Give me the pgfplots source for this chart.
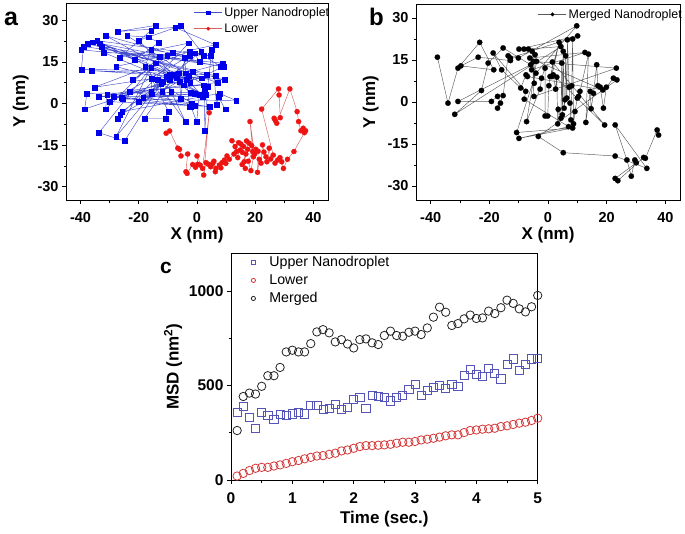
\documentclass[border=0pt]{standalone}
\usepackage{fontspec}
\setmainfont{Liberation Sans}
\usepackage{pgfplots}
\pgfplotsset{compat=1.18}
\definecolor{ublue}{RGB}{0,0,235}
\definecolor{ubline}{RGB}{70,80,205}
\definecolor{lred}{RGB}{238,20,20}
\definecolor{lrline}{RGB}{215,95,95}
\definecolor{mline}{RGB}{90,90,90}
\definecolor{cblue}{RGB}{85,85,185}
\definecolor{cred}{RGB}{212,55,55}
\definecolor{cblack}{RGB}{35,35,35}

\pgfplotsset{
  common/.style={
    scale only axis,
    tick align=outside, xtick pos=bottom, ytick pos=left,
    major tick length=4pt, minor tick length=2.5pt,
    axis line style={line width=0.9pt},
    every tick/.style={black, line width=0.8pt},
    /pgf/number format/assume math mode=true,
    /pgf/number format/1000 sep={},
    label style={font=\fontsize{17}{19}\selectfont\bfseries},
    xticklabel style={yshift=-5pt},
    legend cell align=left,
  },
  traj/.style={
    common,
    xmin=-45, xmax=45,
    xtick={-40,-20,0,20,40}, minor xtick={-30,-10,10,30},
    ytick={-30,-15,0,15,30}, minor ytick={-22.5,-7.5,7.5,22.5},
    tick label style={font=\fontsize{14.5}{16}\selectfont\bfseries},
    xlabel={X (nm)}, ylabel={Y (nm)},
    xlabel style={yshift=2pt}, ylabel style={yshift=2pt},
    legend style={draw=none, fill=none, at={(1.013,0.99)}, anchor=north east,
      inner xsep=0pt, inner ysep=0pt, font=\fontsize{12.4}{14}\selectfont, row sep=2pt},
    legend image code/.code={\draw[mark repeat=2,mark phase=2,#1, mark size=1.8pt] plot coordinates {(0pt,0pt) (14pt,0pt) (28pt,0pt)};},
  },
}

\begin{document}
\begin{tikzpicture}
\useasboundingbox (0,0) rectangle (685pt,-533pt);

% ---------------- panel a ----------------
\begin{axis}[traj, at={(66pt,-200pt)}, anchor=south west,
  width=262pt, height=197pt, ymin=-34.8, ymax=36.3]
\addplot[ubline, line width=0.45pt, mark=square*, mark size=2.4pt,
  mark options={ublue, draw=ublue, fill=ublue, line width=0.2pt}] coordinates {
(-39.8,19.4) (8.8,14.6) (-1.5,11.6) (-39.7,12.4) (-39,20.6) (9,13.4) (3.3,10.4)
(-36.3,11.9) (9.4,8.6) (-37.5,21.6) (6.5,10) (-6.9,9.2) (-38.6,-2) (-37.8,3.7)
(-2.3,4) (-9.5,10.4) (-35.8,22.2) (8.2,13.4) (2.2,17.2) (-32,18.4) (2.9,3.1)
(-34.3,22.7) (4.6,17.2) (-2.6,18.8) (-35.2,5.9) (-10.6,9.8) (-7.8,10.4)
(-33.5,21.8) (7,7.6) (-33.7,2.5) (2,2.5) (-2.4,7.6) (-32.7,20.6) (-12.9,17)
(-31.4,-2) (-30.9,3.1) (1.7,9.2) (-3.5,8.6) (-31.4,24.5) (0.8,15.2) (-0.9,18.2)
(-30,0.7) (-0.7,-0.8) (-28.6,2.5) (-4.6,6.7) (-27.8,13.4) (6.3,21.2) (-7.5,27.5)
(-27.2,26) (-14.3,28.2) (-15.8,26.4) (-26.6,16.7) (-2.9,21.8) (-27.2,-5.3)
(-26.4,-4.1) (-3,10) (-9.5,8.6) (-26,2.2) (-0.7,3.5) (-25.5,1.6) (13.4,1.1)
(7.7,3.7) (-25.7,-2.9) (-11.8,8) (-27.8,-11.9) (-15.8,13) (-33.7,-10.5)
(-24.9,-13.5) (-12.3,7.3) (-1.8,0.1) (-23.2,4.3) (2.4,6.7) (-24,24.5) (-16.7,24)
(-13.1,22) (-21.5,15.8) (-10.3,17.2) (-8.3,18.4) (-22,8.6) (-14.1,14.6) (-6,8)
(-20,22.8) (-5.5,28.1) (1.4,18.8) (-20,0.7) (4.2,-1.1) (-18.5,2.2) (-8.9,4.3)
(-4,-6.5) (-17.8,13.4) (-15.8,19.4) (-2.6,17.2) (-18,-5.3) (-10.9,-5.3)
(-9.8,-2.9) (-15.5,8.9) (-15.8,4.3) (-15.5,3.4) (-13.5,8.6) (-12,4.3) (-6.3,11)
(-5.5,1.7) (-4.3,16.6) (-3.8,11) (-2.6,-1.1) (-2.1,-1.1) (-0.1,-6.5) (0.8,3.1)
(2.5,5.5) (2.7,-9.8) (3.7,6.1) (5.1,19.6) (6.7,-0.5) (7.3,2.5) (9.7,-2)
};
\addlegendentry{Upper Nanodroplet}
\addplot[lrline, line width=0.45pt, mark=*, mark size=2.6pt,
  mark options={lred, draw=lred, fill=lred, line width=0.2pt}] coordinates {
(-10.6,-10.7) (-9.4,-9.9) (-6.6,-16.1) (-6,-16.5) (-5.5,-18.9) (-3.2,-18.2)
(-3.8,-24.6) (-3.4,-25.2) (-1.5,-22) (-0.5,-23) (1.1,-22.2) (0.2,-21.9)
(0,-18.9) (1.9,-23.4) (4.2,-3.3) (2.3,-25.8) (3.1,-21.3) (3.9,-21.9)
(4.7,-22.8) (5.4,-21.6) (6.3,-24.6) (6.5,-23.4) (5.8,-20.8) (7.7,-22.2)
(8.2,-23.2) (8.6,-21.3) (9.9,-21.6) (9.4,-20.4) (10.3,-18.9) (11.1,-20.1)
(12.7,-18.2) (13.6,-17.3) (12,-13.4) (14.3,-14.1) (13.1,-15.5) (14,-19.5)
(15.1,-14.6) (14.8,-16.8) (16,-15.5) (15.6,-17.6) (16.8,-18.2) (15.5,-22)
(16.6,-23.4) (16.2,-21) (17.4,-16.5) (17,-13.5) (17.9,-14.3) (18.8,-15.2)
(19.1,-17.3) (17.6,-20.8) (18.5,-24.2) (19.4,-19.2) (18.2,-6.5) (19.8,-18.2)
(20.2,-16.5) (21,-17.2) (20.8,-24.8) (21.4,-20.1) (22,-21.5) (22.5,-14.9)
(23,-17.5) (23.7,-19.2) (24,-21) (24.8,-16.1) (25.3,-20) (26.2,-18.6)
(22.2,-2) (28,5.3) (28.2,3.1) (28.6,-5.1) (26.5,-5.3) (26.9,-6.1) (27.4,-7.1)
(31.9,5.3) (34.4,-2.9) (34.9,-6.5) (35.7,-9.8) (36.5,-8.9) (37.3,-9.8)
(36.9,-10.5) (33.3,-17.3) (31.1,-20.1) (29.7,-23.4) (29.1,-21) (28.5,-19.5)
(27.7,-20.4) (26.8,-21.5)
};
\addlegendentry{Lower}
\end{axis}

% ---------------- panel b ----------------
\begin{axis}[traj, at={(416pt,-200pt)}, anchor=south west,
  width=264pt, height=196pt, ymin=-35, ymax=35,
  legend style={at={(1.015,0.985)}}]
\addplot[mline, line width=0.45pt, mark=*, mark size=2.7pt,
  mark options={black, draw=black, fill=black, line width=0.2pt}] coordinates {
(-37.7,16) (-34.1,-0.4) (-30.7,12.1) (-23.3,21.3) (-18.5,11.5) (-29.7,12.9)
(-23.8,16) (-12.8,14.8) (-12.8,15.7) (10.1,23.6) (-9.9,18.9) (-8.2,18.9)
(-6.7,18.9) (4.4,19.8) (-31.8,-4.4) (-22.7,4.1) (-20.4,13.9) (-15.3,19.3)
(-5.9,13.3) (-30.7,0.2) (-19.3,0.2) (-17.2,2) (-16.2,-0.4) (-17.2,-2.2)
(-15.3,2.3) (-13.6,16.5) (-10.1,15.7) (9.8,27.2) (-4.1,10.3) (-10.7,-10.9)
(8.4,-9.3) (-9.9,-13) (7,-8.8) (-8.1,1) (-7.6,3.8) (-18.7,17.5) (-15.8,11.5)
(-9.3,5) (-7.5,9.7) (-7,9.1) (18.7,4.3) (-6.2,15.7) (12.6,17.7) (-5.6,11.5)
(-5.4,18.1) (-4.8,2) (23.3,12.1) (-5,14.5) (-4.7,6.7) (-4.4,16.9) (-3.9,14.5)
(-7.3,-7) (-2.7,4.6) (-2.2,8.5) (-1,12.1) (-1,-5) (-0.1,-5) (0.3,5.8)
(0.7,9.1) (3.8,21.3) (1.3,9.1) (1.5,14.3) (19.3,-8.2) (1.8,9.7) (2.6,4.6)
(3,8.9) (3.3,-7.8) (3.5,-2.6) (4.4,-5.8) (4.7,13.9) (4.9,-4.6) (5.2,18.1)
(5.5,-2.2) (5.8,0.8) (6,16.5) (6.4,1.4) (6.6,22.2) (7.2,5.3) (7.5,-0.4)
(7.8,-6.4) (8.1,5.8) (8.4,22.5) (8.7,-7.8) (9.2,-3.4) (10,1.4) (10.4,2)
(10.9,3.8) (13.8,17.1) (12.9,-7.3) (14.4,3.8) (14.7,-2.4) (15.5,3.1)
(16.6,13.3) (17,5.8) (17.8,5.3) (18.9,-2.2) (19.9,5.3) (22.3,8.5) (23.5,7.9)
(-3.3,-12.3) (5.2,-18.1) (22.9,-19.3) (33.7,-23.7) (22.9,-8.2) (26.9,-20.7)
(28.4,-26.5) (29.6,-20.7) (30.1,-21.7) (22.9,-27.3) (23.8,-28.1) (32.6,-19.8)
(33.2,-20.1) (37.2,-10) (37.7,-11.8)
};
\addlegendentry{Merged Nanodroplet}
\end{axis}

% ---------------- panel c ----------------
\begin{axis}[common, at={(231pt,-480pt)}, anchor=south west,
  width=306.7pt, height=226.7pt,
  xmin=0, xmax=5, ymin=0, ymax=1200,
  xtick={0,1,2,3,4,5}, minor xtick={0.5,1.5,2.5,3.5,4.5},
  ytick={0,500,1000}, minor ytick={250,750},
  tick label style={font=\fontsize{15.5}{17}\selectfont\bfseries},
  xlabel={Time (sec.)}, ylabel={MSD (nm\textsuperscript{2})},
  xlabel style={yshift=-1pt},
  legend style={draw=none, fill=none, at={(0.03,1)}, anchor=north west,
    inner xsep=0pt, inner ysep=1pt, font=\fontsize{14.2}{17}\selectfont, row sep=2.5pt},
  legend image code/.code={\path[draw=none] (0pt,0pt) (27pt,0pt); \draw[#1, mark size=2.1pt] plot coordinates {(13pt,0pt)};},
]
\addplot[only marks, mark=square, mark size=4.1pt, cblue, line width=0.8pt] coordinates {
(0.1,359) (0.2,389) (0.3,333) (0.4,274) (0.5,357) (0.6,340) (0.7,322) (0.8,349)
(0.9,342) (1.0,350) (1.1,359) (1.2,350) (1.3,395) (1.4,393) (1.5,372) (1.6,381)
(1.7,402) (1.8,372) (1.9,386) (2.0,428) (2.1,439) (2.2,377) (2.3,446) (2.4,441)
(2.5,439) (2.6,419) (2.7,439) (2.8,446) (2.9,478) (3.0,508) (3.1,448) (3.2,473)
(3.3,490) (3.4,501) (3.5,487) (3.6,508) (3.7,496) (3.8,552) (3.9,584) (4.0,558)
(4.1,549) (4.2,589) (4.3,566) (4.4,535) (4.5,611) (4.6,641) (4.7,581) (4.8,614)
(4.9,641) (5.0,644)
};
\addlegendentry{Upper Nanodroplet}
\addplot[only marks, mark=o, mark size=4.2pt, cred, line width=0.8pt] coordinates {
(0.1,21) (0.2,35) (0.3,50) (0.4,62) (0.5,67) (0.6,67) (0.7,74) (0.8,80)
(0.9,88) (1.0,97) (1.1,103) (1.2,112) (1.3,120) (1.4,127) (1.5,129) (1.6,136)
(1.7,142) (1.8,154) (1.9,159) (2.0,168) (2.1,177) (2.2,182) (2.3,182) (2.4,184)
(2.5,186) (2.6,189) (2.7,195) (2.8,200) (2.9,200) (3.0,204) (3.1,212) (3.2,216)
(3.3,221) (3.4,227) (3.5,234) (3.6,239) (3.7,239) (3.8,251) (3.9,262) (4.0,265)
(4.1,269) (4.2,271) (4.3,274) (4.4,283) (4.5,287) (4.6,294) (4.7,301) (4.8,306)
(4.9,315) (5.0,327)
};
\addlegendentry{Lower}
\addplot[only marks, mark=o, mark size=4.2pt, cblack, line width=0.8pt] coordinates {
(0.1,262) (0.2,442) (0.3,460) (0.4,455) (0.5,496) (0.6,552) (0.7,552) (0.8,596)
(0.9,678) (1.0,687) (1.1,678) (1.2,678) (1.3,722) (1.4,784) (1.5,796) (1.6,779)
(1.7,731) (1.8,743) (1.9,720) (2.0,699) (2.1,743) (2.2,747) (2.3,726) (2.4,717)
(2.5,765) (2.6,788) (2.7,765) (2.8,761) (2.9,782) (3.0,788) (3.1,770) (3.2,805)
(3.3,862) (3.4,915) (3.5,888) (3.6,818) (3.7,828) (3.8,853) (3.9,873) (4.0,855)
(4.1,858) (4.2,894) (4.3,881) (4.4,912) (4.5,952) (4.6,935) (4.7,906) (4.8,890)
(4.9,917) (5.0,977)
};
\addlegendentry{Merged}
\end{axis}

\node[font=\fontsize{25}{27}\selectfont\bfseries, anchor=base west, inner sep=0pt] at (4pt,-25pt) {a};
\node[font=\fontsize{24}{26}\selectfont\bfseries, anchor=base west, inner sep=0pt] at (369pt,-25pt) {b};
\node[font=\fontsize{21}{23}\selectfont\bfseries, anchor=base west, inner sep=0pt] at (160pt,-273pt) {c};
\end{tikzpicture}
\end{document}
